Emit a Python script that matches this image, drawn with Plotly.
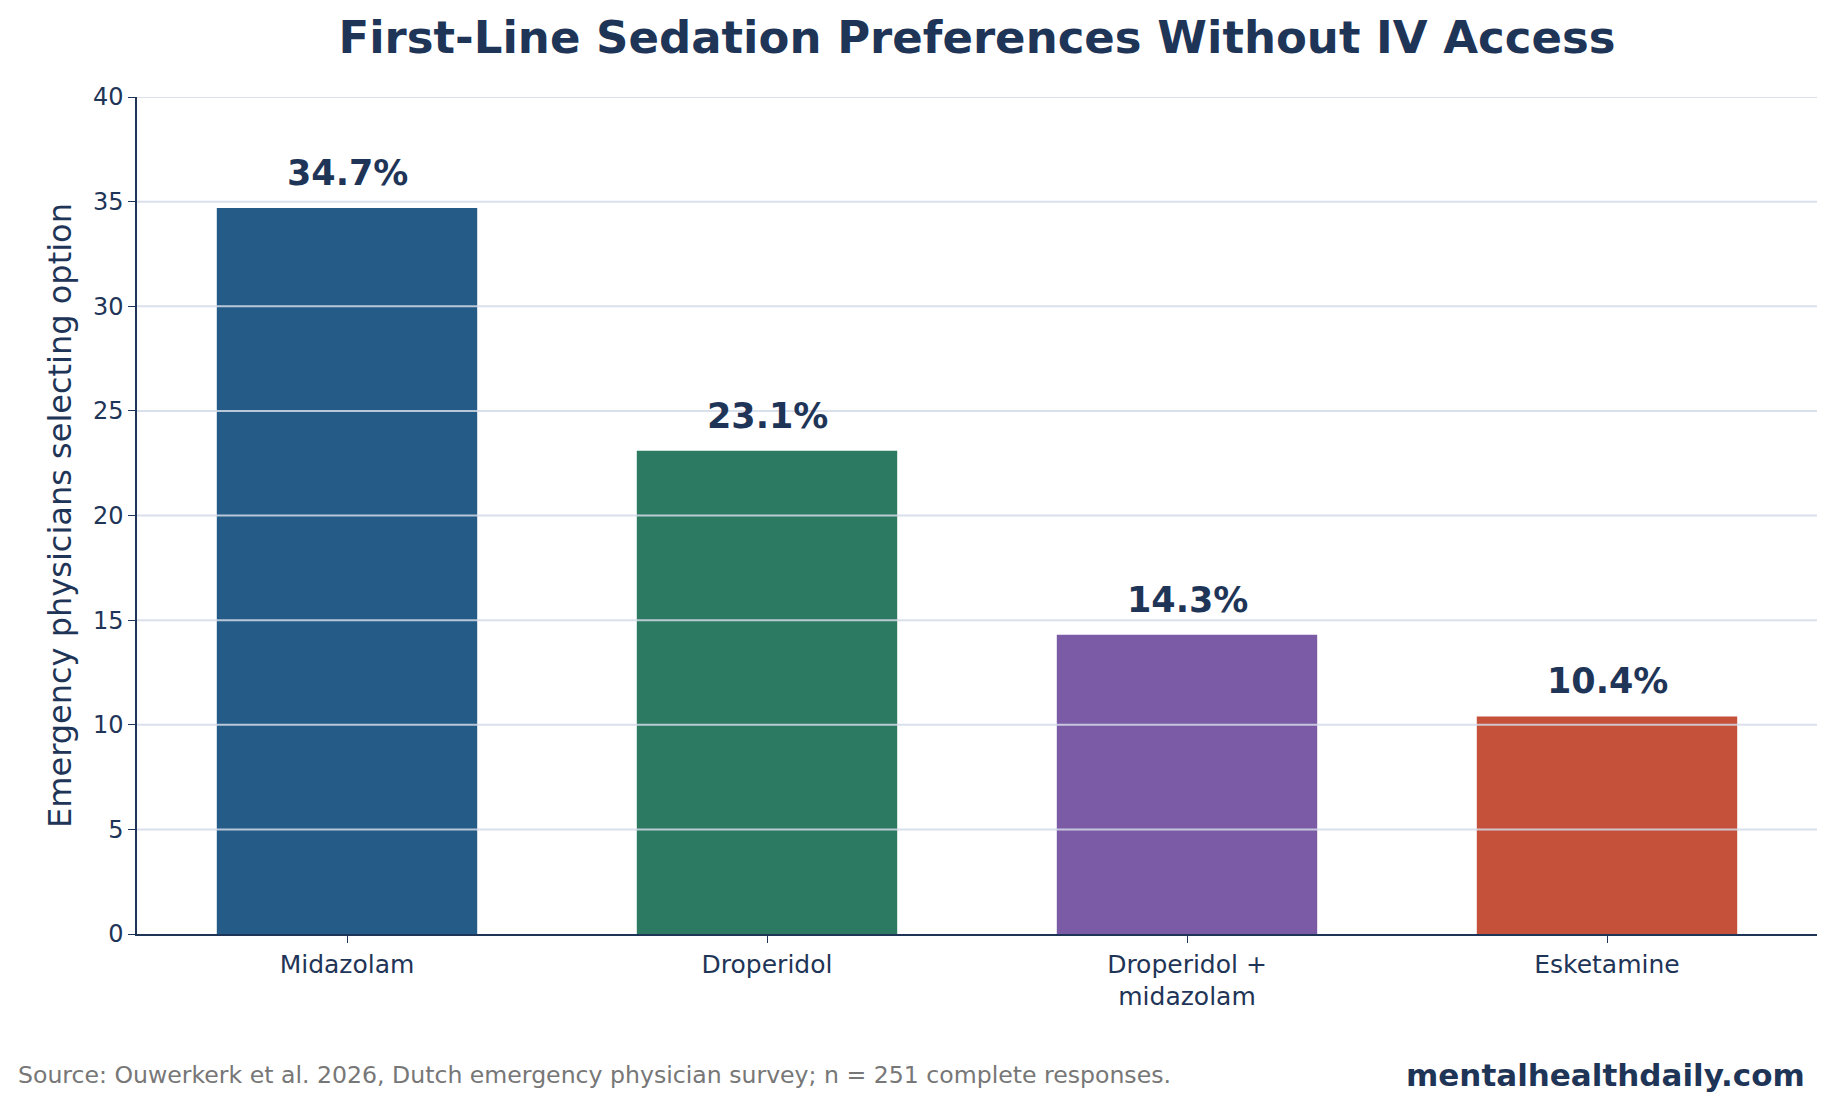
import plotly.graph_objects as go

categories = ["Midazolam", "Droperidol", "Droperidol +<br>midazolam", "Esketamine"]
values = [34.7, 23.1, 14.3, 10.4]
colors = ["#255c87", "#2d7a62", "#7b5ba6", "#c6513b"]
y_ticks = [0, 5, 10, 15, 20, 25, 30, 35, 40]

TXT = "#1f3557"
FONT = "DejaVu Sans"

fig = go.Figure()
fig.add_trace(go.Bar(
    x=categories, y=values, marker_color=colors, width=0.62,
    marker_line_width=0, hoverinfo="skip", showlegend=False,
))

for c, v in zip(categories, values):
    fig.add_annotation(
        x=c, y=v, text=f"<b>{v:.1f}%</b>", showarrow=False,
        yanchor="bottom", yshift=13,
        font=dict(family=FONT, size=35, color=TXT),
    )

# gridlines drawn above bars
for t in y_ticks[1:]:
    fig.add_shape(type="line", xref="paper", yref="y", x0=0, x1=1, y0=t, y1=t,
                  layer="above", line=dict(color="rgba(212,219,232,0.85)", width=2))

fig.add_annotation(
    xref="paper", yref="paper", x=-0.0722, y=-0.169, xanchor="left", yanchor="middle",
    text="Source: Ouwerkerk et al. 2026, Dutch emergency physician survey; n = 251 complete responses.",
    showarrow=False, font=dict(family=FONT, size=23.6, color="#777777"),
)
fig.add_annotation(
    xref="paper", yref="paper", x=0.994, y=-0.169, xanchor="right", yanchor="middle",
    text="<b>mentalhealthdaily.com</b>",
    showarrow=False, font=dict(family=FONT, size=31, color=TXT),
)

fig.update_layout(
    width=1836, height=1110,
    margin=dict(l=137, r=19, t=97, b=176),
    paper_bgcolor="white", plot_bgcolor="white",
    font=dict(family=FONT, color=TXT),
    title=dict(text="<b>First-Line Sedation Preferences Without IV Access</b>",
               xref="paper", x=0.5, xanchor="center", y=0.966, yanchor="middle",
               font=dict(family=FONT, size=45, color=TXT)),
    bargap=0.38,
)
fig.update_xaxes(
    showline=True, linecolor=TXT, linewidth=1.5,
    ticks="outside", ticklen=7, tickcolor=TXT, tickwidth=1.2,
    tickfont=dict(family=FONT, size=25, color=TXT),
    range=[-0.5, 3.5], showgrid=False,
)
fig.update_yaxes(
    range=[0, 40], tickvals=y_ticks, showline=True, linecolor=TXT, linewidth=1.5,
    ticks="outside", ticklen=7, tickcolor=TXT, tickwidth=1.2,
    tickfont=dict(family=FONT, size=24, color=TXT),
    showgrid=False, zeroline=False,
    title=dict(text="Emergency physicians selecting option", standoff=12,
               font=dict(family=FONT, size=32, color=TXT)),
)

fig.write_html("out.html")
